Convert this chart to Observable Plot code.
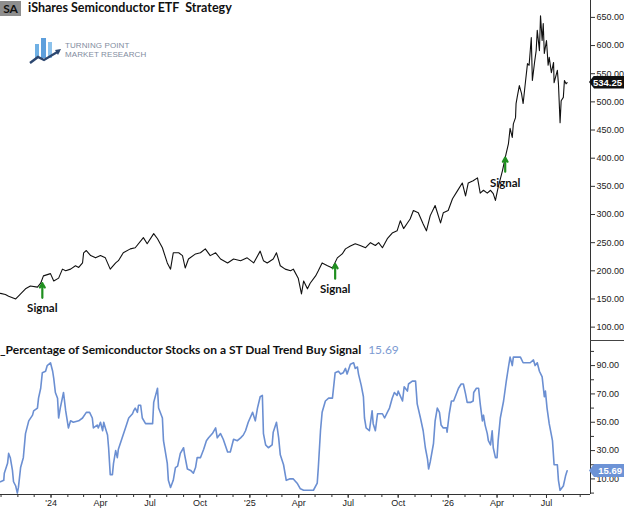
<!DOCTYPE html>
<html><head><meta charset="utf-8">
<script src="https://cdn.jsdelivr.net/npm/d3@7"></script>
<script src="https://cdn.jsdelivr.net/npm/@observablehq/plot@0.6"></script>
<style>
html,body{margin:0;padding:0;background:#fff;}
#wrap{position:relative;width:624px;height:509px;overflow:hidden;font-family:Lato,"Liberation Sans",sans-serif;}
#top,#bottom{position:absolute;left:0;}
#top{top:0}
#bottom{top:341px}
.abs{position:absolute;white-space:nowrap;}
</style></head><body>
<div id="wrap">
  <div id="top"></div>
  <div id="bottom"></div>
  <div class="abs" style="left:0;top:1px;width:21px;height:15px;background:#8e8e8e;color:#111;font:bold 12px Lato,sans-serif;line-height:15px;text-align:center;">SA</div>
  <div class="abs" style="left:28px;top:0px;font:bold 12.5px Lato,sans-serif;line-height:16px;color:#111;">iShares Semiconductor ETF&nbsp; Strategy</div>
  <svg class="abs" style="left:28px;top:36px" width="36" height="30" viewBox="0 0 36 30">
    <rect x="7" y="8" width="4" height="14" fill="#6fb0e4"/>
    <rect x="13" y="2" width="5" height="20" fill="#5d9fdc"/>
    <rect x="20" y="6" width="4" height="16" fill="#8cc2ec"/>
    <polyline points="2,27 10,21 16,24 31,15" fill="none" stroke="#2c4770" stroke-width="2.4"/>
    <polygon points="33,13 27,14 30,19" fill="#2c4770"/>
  </svg>
  <div class="abs" style="left:65px;top:41px;font:8px 'Liberation Sans',Arial,sans-serif;line-height:9px;color:#7f8ca0;letter-spacing:0.1px;">TURNING POINT<br>MARKET RESEARCH</div>
  <div class="abs" id="pctTitle" style="left:0;top:342px;font:bold 12px Lato,sans-serif;line-height:16px;color:#111;"></div>
  <div class="abs" style="left:590px;top:340px;width:34px;height:1px;background:#444;"></div>
</div>
<script>
// ---- Data ----
const priceDates = [
"2023-09-30","2023-10-09","2023-10-15","2023-10-28","2023-11-02","2023-11-15","2023-11-24","2023-12-07","2023-12-13","2023-12-18",
"2023-12-31","2024-01-06","2024-01-15","2024-01-22","2024-01-28","2024-02-06","2024-02-15","2024-02-21","2024-02-28","2024-03-01",
"2024-03-06","2024-03-14","2024-03-23","2024-04-01","2024-04-10","2024-04-19","2024-04-29","2024-05-04","2024-05-13","2024-05-26",
"2024-06-04","2024-06-19","2024-06-26","2024-07-08","2024-07-15","2024-07-24","2024-08-02","2024-08-08","2024-08-13","2024-08-23",
"2024-08-30","2024-09-04","2024-09-10","2024-09-23","2024-10-02","2024-10-11","2024-10-20","2024-10-30","2024-11-08","2024-11-21",
"2024-12-02","2024-12-15","2024-12-27","2025-01-08","2025-01-20","2025-01-26","2025-02-02","2025-02-13","2025-02-19","2025-02-26",
"2025-03-07","2025-03-17","2025-03-22","2025-03-31","2025-04-06","2025-04-10","2025-04-17","2025-04-22","2025-05-02","2025-05-07",
"2025-05-14","2025-05-24","2025-06-02","2025-06-11","2025-06-20","2025-06-26","2025-07-05","2025-07-14","2025-07-23","2025-08-02",
"2025-08-11","2025-08-20","2025-08-26","2025-09-02","2025-09-11","2025-09-20","2025-09-29","2025-10-05","2025-10-11","2025-10-18",
"2025-10-23","2025-10-29","2025-11-07","2025-11-16","2025-11-22","2025-11-29","2025-12-08","2025-12-18","2025-12-23","2026-01-01",
"2026-01-09","2026-01-18","2026-01-27","2026-02-02","2026-02-07","2026-02-16","2026-02-24","2026-03-01","2026-03-07","2026-03-14",
"2026-03-20","2026-03-25","2026-03-29","2026-04-03","2026-04-11","2026-04-16","2026-04-22","2026-04-25","2026-04-29","2026-05-01",
"2026-05-05","2026-05-06","2026-05-08","2026-05-12","2026-05-16","2026-05-19","2026-05-23","2026-05-27","2026-05-30","2026-06-03",
"2026-06-05","2026-06-09","2026-06-12","2026-06-14","2026-06-18","2026-06-20","2026-06-23","2026-06-25","2026-06-27","2026-07-01",
"2026-07-04","2026-07-06","2026-07-10","2026-07-14","2026-07-15","2026-07-21","2026-07-23","2026-07-26","2026-07-28","2026-08-01",
"2026-08-03","2026-08-06","2026-08-08"];
const priceValues = [
160,158,155,150,155,168,173,171,178,191,
195,182,187,203,200,203,209,206,214,232,
236,227,223,227,223,203,214,218,232,239,
241,259,248,266,257,241,214,203,232,232,
227,205,221,230,232,239,227,232,221,214,
221,218,223,214,235,218,214,221,232,209,
203,200,203,187,159,182,168,178,191,200,
214,209,205,223,230,239,244,248,245,241,
250,245,250,241,257,267,271,289,275,285,
292,307,303,283,271,298,316,285,303,307,
328,342,356,333,356,360,365,338,343,338,
343,337,325,348,378,401,426,453,437,461,
472,497,508,529,515,497,533,568,565,614,
538,570,591,627,591,653,609,639,586,609,
565,579,552,570,534,556,532,463,502,508,
538,532,534.25];

const pctDates = [
"2023-09-30","2023-10-06","2023-10-07","2023-10-13","2023-10-15","2023-10-18","2023-10-22","2023-10-24","2023-10-28","2023-10-31",
"2023-11-02","2023-11-06","2023-11-11","2023-11-15","2023-11-21","2023-11-28","2023-11-30","2023-12-07","2023-12-09","2023-12-13",
"2023-12-16","2023-12-22","2023-12-25","2023-12-31","2024-01-04","2024-01-06","2024-01-09","2024-01-13","2024-01-15","2024-01-18",
"2024-01-24","2024-01-28","2024-02-02","2024-02-06","2024-02-11","2024-02-21","2024-02-28","2024-03-06","2024-03-12","2024-03-17",
"2024-03-19","2024-03-26","2024-03-28","2024-04-01","2024-04-05","2024-04-07","2024-04-10","2024-04-14","2024-04-16","2024-04-19",
"2024-04-23","2024-04-25","2024-04-29","2024-05-02","2024-05-04","2024-05-11","2024-05-17","2024-05-23","2024-05-30","2024-06-01",
"2024-06-04","2024-06-08","2024-06-10","2024-06-14","2024-06-17","2024-06-23","2024-06-28","2024-07-06","2024-07-08","2024-07-15",
"2024-07-17","2024-07-24","2024-07-26","2024-08-02","2024-08-04","2024-08-08","2024-08-13","2024-08-17","2024-08-21","2024-08-26",
"2024-09-01","2024-09-03","2024-09-08","2024-09-14","2024-09-19","2024-09-23","2024-09-26","2024-10-02","2024-10-08","2024-10-13",
"2024-10-17","2024-10-24","2024-10-30","2024-11-02","2024-11-08","2024-11-13","2024-11-21","2024-11-26","2024-12-02","2024-12-09",
"2024-12-15","2024-12-20","2024-12-24","2024-12-29","2025-01-06","2025-01-11","2025-01-15","2025-01-20","2025-01-24","2025-01-26",
"2025-01-30","2025-02-04","2025-02-11","2025-02-13","2025-02-19","2025-02-23","2025-02-26","2025-03-04","2025-03-09","2025-03-15",
"2025-03-22","2025-03-29","2025-04-04","2025-04-10","2025-04-28","2025-05-05","2025-05-07","2025-05-11","2025-05-14","2025-05-20",
"2025-05-26","2025-06-02","2025-06-07","2025-06-13","2025-06-17","2025-06-22","2025-06-26","2025-06-29","2025-07-05","2025-07-11",
"2025-07-14","2025-07-18","2025-07-20","2025-07-25","2025-07-29","2025-07-31","2025-08-03","2025-08-09","2025-08-14","2025-08-16",
"2025-08-20","2025-08-24","2025-09-02","2025-09-06","2025-09-11","2025-09-15","2025-09-20","2025-09-24","2025-09-29","2025-10-01",
"2025-10-09","2025-10-12","2025-10-18","2025-10-20","2025-10-27","2025-11-02","2025-11-05","2025-11-11","2025-11-16","2025-11-20",
"2025-11-24","2025-11-26","2025-11-29","2025-12-05","2025-12-08","2025-12-12","2025-12-16","2025-12-19","2025-12-23","2025-12-29",
"2025-12-30","2026-01-03","2026-01-07","2026-01-11","2026-01-16","2026-01-20","2026-01-25","2026-01-29","2026-02-02","2026-02-05",
"2026-02-11","2026-02-16","2026-02-17","2026-02-22","2026-02-26","2026-03-01","2026-03-05","2026-03-07","2026-03-10","2026-03-14",
"2026-03-16","2026-03-20","2026-03-23","2026-03-25","2026-03-29","2026-04-01","2026-04-03","2026-04-07","2026-04-13","2026-04-18",
"2026-04-22","2026-04-25","2026-04-29","2026-05-01","2026-05-14","2026-05-19","2026-06-01","2026-06-07","2026-06-10","2026-06-14",
"2026-06-18","2026-06-23","2026-06-27","2026-06-29","2026-07-02","2026-07-06","2026-07-12","2026-07-15","2026-07-21","2026-07-23",
"2026-07-26","2026-08-01","2026-08-05","2026-08-08"];
const pctValues = [
8,9,14,21,28,25,16,8,5,0,
4,18,25,42,51,55,58,60,67,74,
85,86,90,92,86,81,71,67,53,60,
71,58,46,51,50,51,53,57,57,53,
46,48,46,50,44,50,46,41,32,13,
13,21,30,25,31,39,46,53,56,58,
60,57,62,62,53,49,49,49,64,74,
60,53,37,21,9,4,9,18,19,28,
32,27,17,16,14,18,25,25,31,37,
39,42,46,39,42,38,29,29,38,37,
39,41,44,50,57,51,60,68,69,42,
34,32,34,43,50,39,27,20,9,10,
10,7,3,2,2,7,18,44,57,65,
67,67,85,86,84,85,88,84,91,92,
88,89,84,76,68,53,46,44,58,49,
44,56,56,53,57,60,67,71,69,72,
65,75,72,77,79,79,63,53,44,32,
24,17,22,35,51,60,57,48,46,46,
43,56,65,65,70,74,77,77,70,64,
64,65,71,74,74,63,51,55,48,42,
37,34,44,32,25,25,37,53,65,79,
89,96,90,96,96,92,92,94,90,92,
86,82,68,72,60,49,37,20,20,9,
2,5,12,15.69];

const signalDates = ["2023-12-16","2025-06-07","2026-04-16"];
const signalArrowFrom = [152,186,376];
const signalArrowTo = [178,212,401];
const signalTextAt = [134,168,356];
const signalText = "Signal";

const xTickDates = ["2024-01-01","2024-04-01","2024-07-01","2024-10-01","2025-01-01","2025-04-01","2025-07-01","2025-10-01","2026-01-01","2026-04-01","2026-07-01"];
const xTickLabels = ["'24","Apr","Jul","Oct","'25","Apr","Jul","Oct","'26","Apr","Jul"];
const priceTicks = [100,150,200,250,300,350,400,450,500,550,600,650];
const pctTicks = [10,30,50,70,90];
const pctMinorTicks = [0,20,40,60,80,100];
const chartTitle = "iShares Semiconductor ETF  Strategy";
const pctTitle = "_Percentage of Semiconductor Stocks on a ST Dual Trend Buy Signal";

// ---- Build ----
const parse = d3.utcParse("%Y-%m-%d");
const price = priceDates.map((d, i) => ({date: parse(d), value: priceValues[i]}));
const pct = pctDates.map((d, i) => ({date: parse(d), value: pctValues[i]}));
const signals = signalDates.map((d, i) => ({date: parse(d), from: signalArrowFrom[i], to: signalArrowTo[i], at: signalTextAt[i]}));
const xDomain = [parse("2023-09-30"), parse("2026-09-20")];
const tickDates = xTickDates.map(parse);
const labelMap = new Map(tickDates.map((d, i) => [+d, xTickLabels[i]]));
const monthTicks = d3.utcMonth.range(parse("2023-10-01"), parse("2026-09-02"));
const fmt2 = d => d.toFixed(2);
const baseStyle = {fontFamily: '"Liberation Sans", Arial, sans-serif', fontSize: "9px", color: "#222", background: "transparent", overflow: "visible"};

const topChart = Plot.plot({
  width: 624, height: 341,
  marginLeft: 0, marginRight: 34, marginTop: 0, marginBottom: 0,
  style: baseStyle,
  x: {type: "utc", domain: xDomain, axis: null},
  y: {domain: [74.5, 680]},
  marks: [
    Plot.axisY(priceTicks, {anchor: "right", tickFormat: fmt2, tickSize: 4, tickPadding: 2, label: null, stroke: "#333"}),
    Plot.ruleX([xDomain[1]], {stroke: "#333", strokeWidth: 1}),
    Plot.line(price, {x: "date", y: "value", stroke: "#111", strokeWidth: 1.1}),
    Plot.arrow(signals, {x1: "date", x2: "date", y1: "from", y2: "to", stroke: "#1f8f1f", strokeWidth: 2.2, headLength: 7}),
    Plot.text(signals, {x: "date", y: "at", text: () => signalText, fontWeight: "bold", fontSize: 11.5, fontFamily: "Lato, sans-serif", fill: "#111"})
  ]
});
document.getElementById("top").appendChild(topChart);

const bottomChart = Plot.plot({
  width: 624, height: 168,
  marginLeft: 0, marginRight: 34, marginTop: 0, marginBottom: 15,
  style: baseStyle,
  x: {type: "utc", domain: xDomain},
  y: {domain: [-1, 107]},
  marks: [
    Plot.axisX(monthTicks, {tickFormat: () => "", tickSize: 3, label: null, stroke: "#333"}),
    Plot.axisX(tickDates, {tickFormat: d => labelMap.get(+d), tickSize: 4, tickPadding: 1, label: null, stroke: "#333", fill: "#222"}),
    Plot.axisY(pctTicks, {anchor: "right", tickFormat: fmt2, tickSize: 4, tickPadding: 2, label: null, stroke: "#333"}),
    Plot.axisY(pctMinorTicks, {anchor: "right", tickFormat: () => "", tickSize: 3, label: null, stroke: "#333"}),
    Plot.ruleX([xDomain[1]], {stroke: "#333"}),
    Plot.ruleY([-1], {stroke: "#333"}),
    Plot.line(pct, {x: "date", y: "value", stroke: "#6b8fd2", strokeWidth: 1.6})
  ]
});
document.getElementById("bottom").appendChild(bottomChart);

// titles
const pt = document.getElementById("pctTitle");
pt.textContent = pctTitle;
const sp = document.createElement("span");
sp.textContent = pctValues[pctValues.length - 1].toFixed(2);
sp.style.cssText = "color:#7d9bd2;font-weight:normal;margin-left:7px;";
pt.appendChild(sp);

// last-value tags
const wrap = document.getElementById("wrap");
function tag(y, text, bg) {
  const d = document.createElement("div");
  d.className = "abs";
  d.textContent = text;
  d.style.cssText = `left:589px;top:${(y - 6.5).toFixed(1)}px;width:35px;height:13px;background:${bg};color:#fff;font:bold 9.5px 'Liberation Sans',Arial,sans-serif;line-height:13px;text-align:right;padding-right:2px;box-sizing:border-box;clip-path:polygon(0 50%,5px 0,100% 0,100% 100%,5px 100%);`;
  wrap.appendChild(d);
}
tag(topChart.scale("y").apply(priceValues[priceValues.length - 1]), fmt2(priceValues[priceValues.length - 1]), "#111");
tag(341 + bottomChart.scale("y").apply(pctValues[pctValues.length - 1]), fmt2(pctValues[pctValues.length - 1]), "#6d93d6");
</script>
</body></html>
